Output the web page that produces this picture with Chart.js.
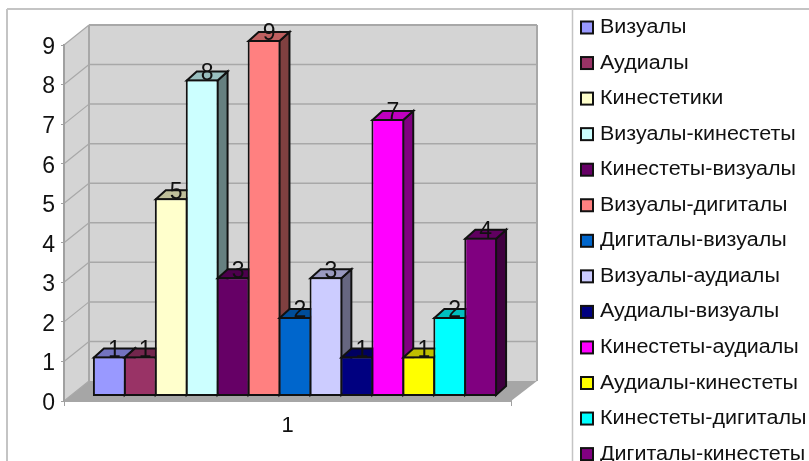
<!DOCTYPE html>
<html>
<head>
<meta charset="utf-8">
<style>
  html, body { margin: 0; background: #fff; overflow: hidden; }
  canvas { display: block; }
</style>
<script src="https://cdn.jsdelivr.net/npm/chart.js@4/dist/chart.umd.min.js"></script>
</head>
<body>
<canvas id="typesChart" width="809" height="461"></canvas>
<script>
// === Data ===
const categories = ['1'];
const seriesNames = [
  'Визуалы', 'Аудиалы', 'Кинестетики', 'Визуалы-кинестеты', 'Кинестеты-визуалы',
  'Визуалы-дигиталы', 'Дигиталы-визуалы', 'Визуалы-аудиалы', 'Аудиалы-визуалы',
  'Кинестеты-аудиалы', 'Аудиалы-кинестеты', 'Кинестеты-дигиталы', 'Дигиталы-кинестеты'
];
const seriesValues = [1, 1, 5, 8, 3, 9, 2, 3, 1, 7, 1, 2, 4];
const seriesColors = [
  '#9999FF', '#993366', '#FFFFCC', '#CCFFFF', '#660066', '#FF8080', '#0066CC',
  '#CCCCFF', '#000080', '#FF00FF', '#FFFF00', '#00FFFF', '#800080'
];

// === 3D look ===
const FONT = '"Liberation Sans", Arial, sans-serif';
const WALL_DX = 25, WALL_DY = -20;   // back wall relative to the axis plane
const BAR_SHIFT = 7.5;               // bars stand a little behind the axis plane
const BAR_DX = 10, BAR_DY = -9;      // depth of a single bar
const OUTLINE = '#111';

function shade(hex, k) {
  const n = parseInt(hex.slice(1), 16);
  const c = [n >> 16, (n >> 8) & 255, n & 255].map(v => Math.round(v * k));
  return `rgb(${c[0]},${c[1]},${c[2]})`;
}

function poly(ctx, pts, fill, stroke, lw) {
  ctx.beginPath();
  pts.forEach((p, i) => i ? ctx.lineTo(p[0], p[1]) : ctx.moveTo(p[0], p[1]));
  ctx.closePath();
  if (fill) { ctx.fillStyle = fill; ctx.fill(); }
  if (stroke) { ctx.strokeStyle = stroke; ctx.lineWidth = lw; ctx.stroke(); }
}

function line(ctx, x1, y1, x2, y2, color, lw) {
  ctx.beginPath();
  ctx.moveTo(x1, y1);
  ctx.lineTo(x2, y2);
  ctx.strokeStyle = color;
  ctx.lineWidth = lw;
  ctx.stroke();
}

// ---------- frame + walls + floor ----------
const wallsPlugin = {
  id: 'walls',
  beforeDraw(chart) {
    const { ctx, chartArea: a, scales: { y } } = chart;
    const H = chart.height, W = chart.width;
    ctx.save();

    // outer frame and legend divider
    line(ctx, 7, 9, W, 9, '#c4c4c4', 2);
    line(ctx, 7, 9, 7, H, '#c4c4c4', 2);
    line(ctx, 572.5, 9, 572.5, H, '#c4c4c4', 1.5);

    const bx = a.left + WALL_DX, by = WALL_DY;
    const rx = 537;
    const y0 = y.getPixelForValue(0), y9 = y.getPixelForValue(9);

    poly(ctx, [[bx, y9 + by], [rx, y9 + by], [rx, y0 + by], [bx, y0 + by]], '#d4d4d4');
    poly(ctx, [[a.left, y9], [bx, y9 + by], [bx, y0 + by], [a.left, y0]], '#d4d4d4');
    poly(ctx, [[a.left, y0], [bx, y0 + by], [rx, y0 + by], [a.right, y0]], '#a6a6a6');

    y.ticks.forEach(t => {
      const py = y.getPixelForValue(t.value);
      if (t.value > 0) line(ctx, bx, py + by, rx, py + by, '#a8a8a8', 1.5);
      line(ctx, a.left, py, bx, py + by, '#a8a8a8', 1.2);
    });

    // wall edges
    line(ctx, bx, y9 + by, bx, y0 + by, '#a8a8a8', 2);
    line(ctx, bx, y9 + by, rx, y9 + by, '#a8a8a8', 2);
    line(ctx, rx, y9 + by, rx, y0 + by, '#a8a8a8', 2);
    ctx.restore();
  }
};

// ---------- bars with side and top faces, painted left to right ----------
const barsPlugin = {
  id: 'bars3d',
  beforeDatasetDraw() {
    return false;   // painted in series order below
  },
  afterDatasetsDraw(chart) {
    const ctx = chart.ctx;
    const metas = chart.getSortedVisibleDatasetMetas();
    ctx.save();
    ctx.translate(BAR_SHIFT, 0);
    ctx.lineJoin = 'miter';
    metas.forEach(meta => {
      const color = seriesColors[meta.index];
      meta.data.forEach(bar => {
        const l = bar.x - bar.width / 2 + 1, r = bar.x + bar.width / 2 - 1;
        const top = bar.y + 1, base = bar.base - 1;
        poly(ctx, [[r, top], [r + BAR_DX, top + BAR_DY], [r + BAR_DX, base + BAR_DY], [r, base]],
          shade(color, 0.5), OUTLINE, 2);
        poly(ctx, [[l, top], [l + BAR_DX, top + BAR_DY], [r + BAR_DX, top + BAR_DY], [r, top]],
          shade(color, 0.75), OUTLINE, 2);
      });
      meta.controller.draw();
    });

    // value labels
    ctx.font = `23px ${FONT}`;
    ctx.fillStyle = '#111';
    ctx.textAlign = 'center';
    ctx.textBaseline = 'middle';
    metas.forEach(meta => {
      meta.data.forEach((bar, i) => {
        ctx.fillText(String(chart.data.datasets[meta.index].data[i]), bar.x + 5, bar.y - 6);
      });
    });
    ctx.restore();
  }
};

// ---------- legend column ----------
const legendPlugin = {
  id: 'sideLegend',
  afterDraw(chart) {
    const ctx = chart.ctx;
    ctx.save();
    ctx.font = `20px ${FONT}`;
    ctx.textBaseline = 'middle';
    ctx.textAlign = 'left';
    chart.data.datasets.forEach((ds, i) => {
      const cy = 27.5 + i * 35.55;
      ctx.fillStyle = ds.backgroundColor;
      ctx.fillRect(581, cy - 6, 12, 12);
      ctx.strokeStyle = OUTLINE;
      ctx.lineWidth = 2;
      ctx.strokeRect(581, cy - 6, 12, 12);
      // labels run slightly wide
      ctx.save();
      ctx.translate(600, cy);
      ctx.scale(1.075, 1);
      ctx.fillStyle = '#111';
      ctx.fillText(ds.label, 0, 0);
      ctx.restore();
    });
    ctx.restore();
  }
};

new Chart(document.getElementById('typesChart'), {
  type: 'bar',
  data: {
    labels: categories,
    datasets: seriesNames.map((name, i) => ({
      label: name,
      data: [seriesValues[i]],
      backgroundColor: seriesColors[i],
      borderColor: OUTLINE,
      borderWidth: 2,
      borderSkipped: false,
      inflateAmount: 0,
      categoryPercentage: 0.9,
      barPercentage: 1.06,
      yAxisID: 'yBars'
    }))
  },
  options: {
    responsive: false,
    animation: false,
    layout: { padding: { top: 45, right: 298, left: 0, bottom: 0 } },
    plugins: { legend: { display: false }, tooltip: { enabled: false } },
    scales: {
      x: {
        afterFit: s => { s.height = 60; },
        grid: { drawOnChartArea: false, tickLength: 5, color: '#a0a0a0' },
        border: { color: '#a6a6a6', width: 2 },
        ticks: { color: '#111', font: { family: FONT, size: 22 }, padding: 7 }
      },
      y: {
        min: 0,
        max: 9,
        afterFit: s => { s.width = 64; },
        grid: { drawOnChartArea: false, tickLength: 3, color: '#a0a0a0' },
        border: { color: '#a0a0a0', width: 2 },
        ticks: { stepSize: 1, color: '#111', font: { family: FONT, size: 23 }, padding: 6, labelOffset: 2.5 }
      },
      // bars rest slightly above the axis floor line, on their own hidden scale
      yBars: { display: false, min: -0.1264, max: 8.8736 }
    }
  },
  plugins: [wallsPlugin, barsPlugin, legendPlugin]
});
</script>
</body>
</html>
